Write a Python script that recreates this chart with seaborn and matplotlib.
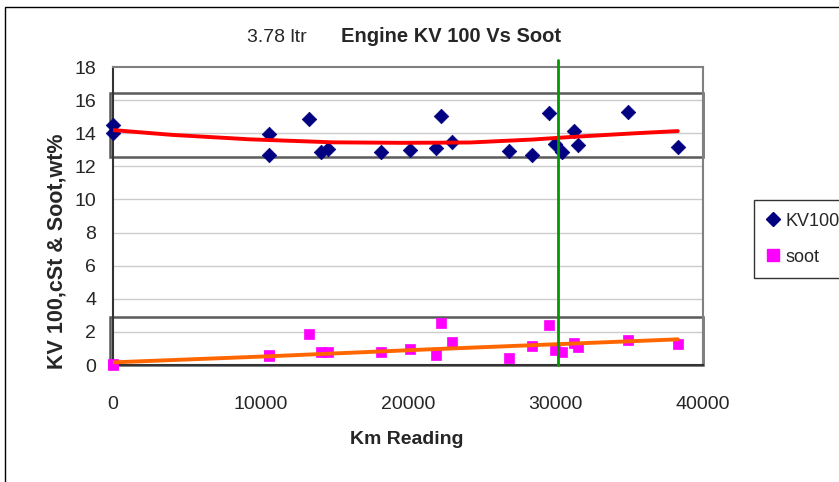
import numpy as np
import pandas as pd
import seaborn as sns
import matplotlib.pyplot as plt
from matplotlib.patches import Rectangle
from matplotlib.lines import Line2D

# km reading of each sample
km = [0, 0, 10600, 10600, 13300, 14100, 14550, 18200, 20150, 21900, 22250,
      23000, 26850, 28430, 29560, 29970, 30420, 31250, 31500, 34940, 38290]
# KV 100 (cSt)
kv100 = [14.5, 14.0, 13.93, 12.68, 14.84, 12.88, 13.04, 12.88, 12.98, 13.12, 15.06,
         13.45, 12.92, 12.66, 15.2, 13.33, 12.88, 14.15, 13.27, 15.3, 13.15]
# soot (wt%)
soot = [0.0, 0.05, 0.6, 0.55, 1.85, 0.77, 0.77, 0.77, 0.99, 0.6, 2.56,
        1.37, 0.4, 1.12, 2.44, 0.88, 0.76, 1.35, 1.1, 1.5, 1.24]

# trend lines
kv_trend_km = [0, 4000, 9300, 14900, 19500, 24200, 28470, 31190, 35250, 38290]
kv_trend = [14.19, 13.9, 13.63, 13.45, 13.42, 13.44, 13.62, 13.78, 13.99, 14.13]
soot_trend_km = [0, 10400, 21000, 38290]
soot_trend = [0.16, 0.52, 0.93, 1.55]

marker_km = 30200
y_ticks = [0, 2, 4, 6, 8, 10, 12, 14, 16, 18]
x_ticks = [0, 10000, 20000, 30000, 40000]

df = pd.DataFrame({'km': km, 'kv100': kv100, 'soot': soot})

sns.set_style('white')
plt.rcParams['font.family'] = ['Liberation Sans', 'DejaVu Sans']

fig = plt.figure(figsize=(8.39, 4.82), dpi=100)
ax = fig.add_axes([113 / 839, 1 - 365 / 482, 590 / 839, 298 / 482])

for y in y_ticks[1:-1]:
    ax.axhline(y, color='#cccccc', lw=1, zorder=0)

# highlighted bands
for lo, hi in [(12.55, 16.45), (0, 2.88)]:
    ax.add_patch(Rectangle((-0.005, lo), 1.005, hi - lo,
                           transform=ax.get_yaxis_transform(),
                           fill=False, edgecolor='#5a5a5a', lw=1.8,
                           clip_on=False, zorder=1))

sns.scatterplot(data=df, x='km', y='kv100', marker='D', s=55, color='#000080',
                edgecolor='#000080', linewidth=0.5, ax=ax, zorder=3, clip_on=False)
sns.scatterplot(data=df, x='km', y='soot', marker='s', s=60, color='#ff00ff',
                edgecolor='#ff00ff', linewidth=0.5, ax=ax, zorder=3, clip_on=False)

sns.lineplot(x=kv_trend_km, y=kv_trend, color='#ff0000', lw=2.8, ax=ax, zorder=4)
sns.lineplot(x=soot_trend_km, y=soot_trend, color='#ff6600', lw=2.8, ax=ax, zorder=4)

ax.plot([marker_km, marker_km], [0, 1.025], color='#009900', lw=2, zorder=5,
        transform=ax.get_xaxis_transform(), clip_on=False)

ax.set_xlim(0, 40000)
ax.set_ylim(0, 18)
ax.set_xticks(x_ticks)
ax.set_yticks(y_ticks)
ax.tick_params(axis='x', length=0, pad=22, labelsize=14)
ax.tick_params(axis='y', length=0, pad=12, labelsize=14)
ax.set_xlabel('')
ax.set_ylabel('')
for side in ['left', 'bottom']:
    ax.spines[side].set_color('#333333')
    ax.spines[side].set_linewidth(1.5)
for side in ['top', 'right']:
    ax.spines[side].set_color('#808080')
    ax.spines[side].set_linewidth(1.5)

fig.text(407 / 839, 1 - 440 / 482, 'Km Reading', ha='center', va='center',
         fontsize=14, fontweight='bold')
fig.text(57 / 839, 1 - 251 / 482, 'KV 100,cSt & Soot,wt%', ha='center', va='center',
         rotation=90, fontsize=15.5, fontweight='bold')
fig.text(451 / 839, 1 - 36 / 482, 'Engine KV 100 Vs Soot', ha='center', va='center',
         fontsize=14.5, fontweight='bold')
fig.text(277 / 839, 1 - 38 / 482, '3.78 ltr', ha='center', va='center', fontsize=14)

handles = [Line2D([], [], marker='D', color='#000080', ls='none', markersize=7),
           Line2D([], [], marker='s', color='#ff00ff', ls='none', markersize=8)]
leg = fig.legend(handles, ['KV100', 'soot'], loc='upper left',
                 bbox_to_anchor=(754 / 839, 1 - 200 / 482), fontsize=13,
                 frameon=True, fancybox=False, handlelength=0.7,
                 handletextpad=0.35, borderpad=0.7, labelspacing=1.05,
                 borderaxespad=0)
leg.get_frame().set_edgecolor('black')
leg.get_frame().set_linewidth(1)

# outer chart border
fig.add_artist(Rectangle((5 / 839, -0.1), 1.2, 1.1 - 7 / 482,
                         transform=fig.transFigure, fill=False,
                         edgecolor='black', lw=1))

fig.savefig('out.png', dpi=100)
